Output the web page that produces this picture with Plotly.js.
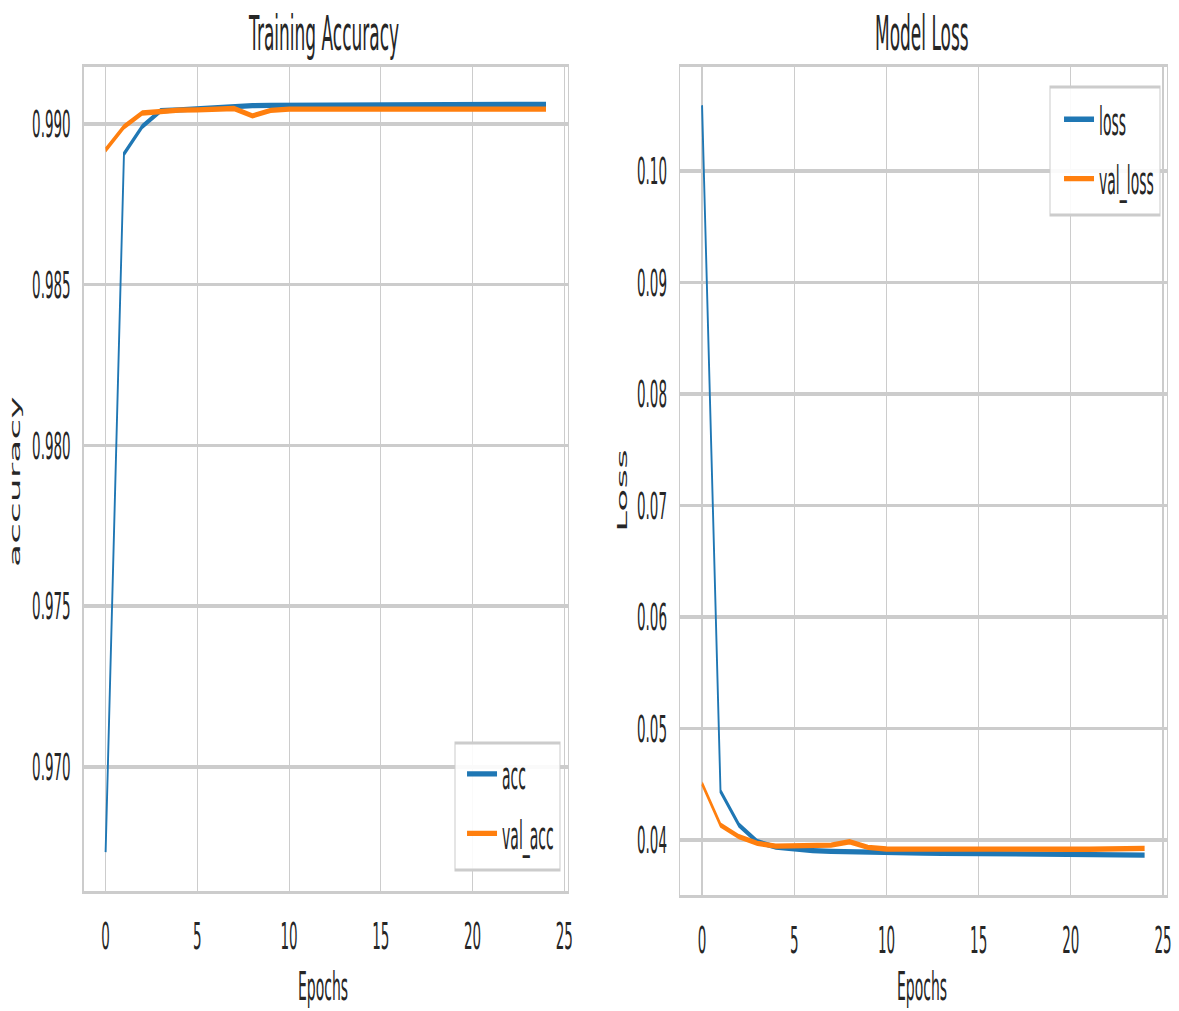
<!DOCTYPE html>
<html>
<head>
<meta charset="utf-8">
<script src="https://cdn.plot.ly/plotly-3.0.1.min.js"></script>
<style>
html, body { margin: 0; padding: 0; background: #ffffff; overflow: hidden; }
#wrap { width: 1179px; height: 1011px; overflow: hidden; }
#plot { width: 1179px; height: 361px; transform: scaleY(2.8006); transform-origin: 0 0; }
</style>
</head>
<body>
<div id="wrap"><div id="plot"></div></div>
<script>
// ---- data ----
const epochs = [0,1,2,3,4,5,6,7,8,9,10,11,12,13,14,15,16,17,18,19,20,21,22,23,24];
const acc = [0.96735,0.98907,0.98992,0.99041,0.99044,0.99047,0.99056,0.99057,0.99057,0.99058,0.99058,0.99058,0.99059,0.99059,0.99059,0.99060,0.99060,0.99060,0.99060,0.99061,0.99061,0.99061,0.99062,0.99061,0.99061];
const valAcc = [0.98919,0.98991,0.99034,0.99041,0.99043,0.99044,0.99047,0.99048,0.99025,0.99042,0.99046,0.99046,0.99047,0.99046,0.99045,0.99046,0.99047,0.99047,0.99046,0.99046,0.99046,0.99047,0.99046,0.99046,0.99046];
const loss = [0.1059,0.04437,0.04135,0.03985,0.03937,0.03915,0.03905,0.03898,0.03892,0.03888,0.03886,0.03884,0.03883,0.03882,0.03880,0.03879,0.03878,0.03877,0.03876,0.03875,0.03874,0.03870,0.03860,0.03866,0.03865];
const valLoss = [0.04508,0.04135,0.04030,0.03970,0.03946,0.03943,0.03940,0.03955,0.03985,0.03935,0.03920,0.03918,0.03918,0.03920,0.03925,0.03918,0.03920,0.03920,0.03918,0.03917,0.03918,0.03918,0.03920,0.03922,0.03925];
const xTicks = [0,5,10,15,20,25];
const accTicks = [0.970,0.975,0.980,0.985,0.990];
const lossTicks = [0.04,0.05,0.06,0.07,0.08,0.09,0.10];
const seriesNames = ['acc','val_acc','loss','val_loss'];
const titles = ['Training Accuracy','Model Loss'];

// ---- style ----
const BLUE = '#1f77b4', ORANGE = '#ff7f0e', GRID = '#cccccc', TXT = '#262626';
const FONT = 'DejaVu Sans';
const LW = 1.9;
const H = 1011, W = 1179;

const traces = [
  {x: epochs, y: acc, name: seriesNames[0], mode: 'lines', line: {color: BLUE, width: LW}, xaxis: 'x', yaxis: 'y', legend: 'legend'},
  {x: epochs, y: valAcc, name: seriesNames[1], mode: 'lines', line: {color: ORANGE, width: LW}, xaxis: 'x', yaxis: 'y', legend: 'legend'},
  {x: epochs, y: loss, name: seriesNames[2], mode: 'lines', line: {color: BLUE, width: LW}, xaxis: 'x2', yaxis: 'y2', legend: 'legend2'},
  {x: epochs, y: valLoss, name: seriesNames[3], mode: 'lines', line: {color: ORANGE, width: LW}, xaxis: 'x2', yaxis: 'y2', legend: 'legend2'}
];

function xax(domain, anchor) {
  return {
    domain: domain, anchor: anchor, range: [-1.2, 25.2], tickvals: xTicks,
    showgrid: true, gridcolor: GRID, gridwidth: 1.2, zeroline: false,
    showline: true, mirror: true, linecolor: GRID, linewidth: 1.2,
    ticks: 'outside', ticklen: 3.3, tickcolor: 'rgba(0,0,0,0)',
    tickfont: {family: FONT, size: 13.5, color: TXT}
  };
}
function yax(domain, anchor, range, ticks, fmt) {
  return {
    domain: domain, anchor: anchor, range: range, tickvals: ticks, tickformat: fmt,
    showgrid: true, gridcolor: GRID, gridwidth: 1.2, zeroline: false,
    showline: true, mirror: true, linecolor: GRID, linewidth: 1.2,
    ticks: '', ticklabelstandoff: 9,
    tickfont: {family: FONT, size: 13.5, color: TXT}
  };
}

const legendBase = {
  bgcolor: 'rgba(255,255,255,0)', bordercolor: 'rgba(0,0,0,0)', borderwidth: 1,
  font: {family: FONT, size: 14, color: TXT}
};

function box(x0, x1, y0, y1) {
  return {type: 'rect', xref: 'paper', yref: 'paper', layer: 'above',
    x0: x0 / W, x1: x1 / W, y0: 1 - y1 / H, y1: 1 - y0 / H,
    fillcolor: 'rgba(255,255,255,0.9)', line: {color: GRID, width: 1}};
}

const layout = {
  width: 1179, height: 361,
  margin: {l: 0, r: 0, t: 0, b: 0},
  paper_bgcolor: '#ffffff', plot_bgcolor: '#ffffff',
  showlegend: true,
  xaxis: xax([0.0709, 0.4818], 'y'),
  yaxis: yax([0.1187, 0.9337], 'x', [0.96614, 0.99177], accTicks, '.3f'),
  xaxis2: xax([0.5767, 0.9896], 'y2'),
  yaxis2: yax([0.1147, 0.9337], 'x2', [0.03507, 0.10933], lossTicks, '.2f'),
  legend: Object.assign({x: 0.475, xanchor: 'right', y: 0.1281, yanchor: 'bottom'}, legendBase),
  legend2: Object.assign({x: 0.9839, xanchor: 'right', y: 0.928, yanchor: 'top'}, legendBase),
  shapes: [box(455, 560, 743, 870), box(1050, 1160, 87, 215)],
  annotations: [
    {text: titles[0], xref: 'paper', yref: 'paper', x: 323/W, y: 0.9674, xanchor: 'center', yanchor: 'middle', showarrow: false, font: {family: FONT, size: 17, color: TXT}},
    {text: titles[1], xref: 'paper', yref: 'paper', x: 922/W, y: 0.9674, xanchor: 'center', yanchor: 'middle', showarrow: false, font: {family: FONT, size: 17, color: TXT}},
    {text: 'Epochs', xref: 'paper', yref: 'paper', x: 323/W, y: 1 - 987/H, xanchor: 'center', yanchor: 'middle', showarrow: false, borderpad: 0, font: {family: FONT, size: 14, color: TXT}},
    {text: 'Epochs', xref: 'paper', yref: 'paper', x: 922/W, y: 1 - 986/H, xanchor: 'center', yanchor: 'middle', showarrow: false, borderpad: 0, font: {family: FONT, size: 14, color: TXT}},
    {text: 'accuracy', xref: 'paper', yref: 'paper', x: 15/W, y: 0.5223, xanchor: 'center', yanchor: 'middle', textangle: -90, showarrow: false, font: {family: FONT, size: 13.5, color: TXT}},
    {text: 'Loss', xref: 'paper', yref: 'paper', x: 622/W, y: 0.5153, xanchor: 'center', yanchor: 'middle', textangle: -90, showarrow: false, font: {family: FONT, size: 13.5, color: TXT}}
  ]
};

Plotly.newPlot('plot', traces, layout, {displayModeBar: false, staticPlot: true});
</script>
</body>
</html>
